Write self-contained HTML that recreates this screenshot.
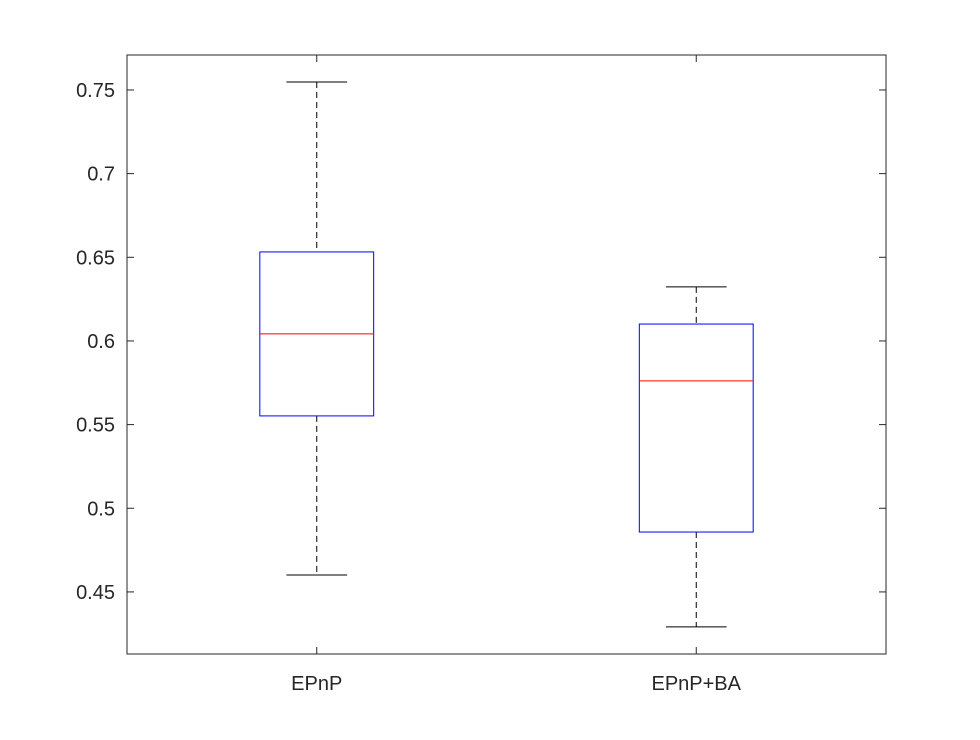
<!DOCTYPE html>
<html><head><meta charset="utf-8"><style>
html,body{margin:0;padding:0;background:#fff;}
svg text{font-family:"Liberation Sans",Arial,sans-serif;font-size:20px;fill:#262626;}
</style></head><body>
<svg id="chart" width="980" height="735">
<rect x="0" y="0" width="980" height="735" fill="#fff"/>
<g id="marks"></g>
<rect x="127" y="55" width="759" height="599" fill="none" stroke="#262626" stroke-width="1"/>
<g id="axes"></g>
</svg>
<script>
const categories = ["EPnP", "EPnP+BA"];
const whiskerHigh = [0.7548, 0.6323];
const q3 = [0.6532, 0.6101];
const median = [0.6042, 0.5761];
const q1 = [0.5552, 0.4858];
const whiskerLow = [0.4601, 0.4291];
const yTicks = [0.45, 0.5, 0.55, 0.6, 0.65, 0.7, 0.75];
const yTickLabels = ["0.45", "0.5", "0.55", "0.6", "0.65", "0.7", "0.75"];

const L=127,R=886,T=55,B=654, yMin=0.4129, yMax=0.7709, xMin=0.5, xMax=2.5;
const xs=v=>L+(v-xMin)/(xMax-xMin)*(R-L);
const ys=v=>B-(v-yMin)/(yMax-yMin)*(B-T);
const NS="http://www.w3.org/2000/svg";
function mk(tag,attrs,parent){const e=document.createElementNS(NS,tag);for(const k in attrs)e.setAttribute(k,attrs[k]);parent.appendChild(e);return e;}
const marks=document.getElementById('marks'), axes=document.getElementById('axes');
const bw=0.15, cw=0.08;
categories.forEach((c,i)=>{
  const x=xs(i+1);
  const g=mk('g',{},marks);
  
  
  const dash={stroke:'#000','stroke-width':1,'stroke-dasharray':'6,4'};
  let e=mk('line',Object.assign({x1:x,x2:x,y1:ys(whiskerHigh[i]),y2:ys(q3[i])},dash),g);
  
  
  e=mk('line',Object.assign({x1:x,x2:x,y1:ys(q1[i]),y2:ys(whiskerLow[i])},dash),g);
  
  
  e=mk('line',{x1:xs(i+1-cw),x2:xs(i+1+cw),y1:ys(whiskerHigh[i]),y2:ys(whiskerHigh[i]),stroke:'#000'},g);
  
  
  e=mk('line',{x1:xs(i+1-cw),x2:xs(i+1+cw),y1:ys(whiskerLow[i]),y2:ys(whiskerLow[i]),stroke:'#000'},g);
  
  
  e=mk('rect',{x:xs(i+1-bw),y:ys(q3[i]),width:xs(i+1+bw)-xs(i+1-bw),height:ys(q1[i])-ys(q3[i]),fill:'none',stroke:'#0000ff'},g);
  
  
  e=mk('line',{x1:xs(i+1-bw),x2:xs(i+1+bw),y1:ys(median[i]),y2:ys(median[i]),stroke:'#ff0000'},g);
  
  
  mk('line',{x1:x,x2:x,y1:B,y2:B-7,stroke:'#262626'},axes);
  mk('line',{x1:x,x2:x,y1:T,y2:T+7,stroke:'#262626'},axes);
  const t=mk('text',{x:x,y:B+36,'text-anchor':'middle'},axes);
  t.textContent=c;
  
  
});
yTicks.forEach((v,i)=>{
  const y=ys(v);
  mk('line',{x1:L,x2:L+7,y1:y,y2:y,stroke:'#262626'},axes);
  mk('line',{x1:R,x2:R-7,y1:y,y2:y,stroke:'#262626'},axes);
  const t=mk('text',{x:L-12,y:y+7,'text-anchor':'end'},axes);
  t.textContent=yTickLabels[i];
  
  
});
</script>
</body></html>
